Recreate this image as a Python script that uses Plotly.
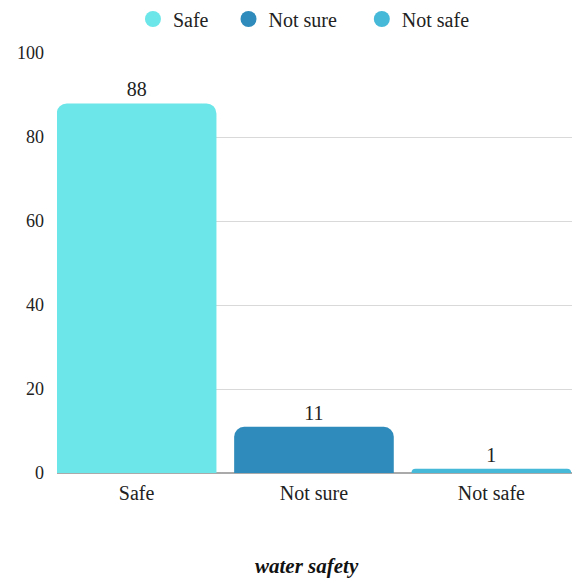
import plotly.graph_objects as go

categories = ["Safe", "Not sure", "Not safe"]
values = [88, 11, 1]
colors = ["#6ce6e8", "#2e8bbb", "#46b8d8"]
y_ticks = [0, 20, 40, 60, 80, 100]
x_title = "water safety"

FONT = "Times New Roman"
# extra spacing after each legend entry
legend_pad = ["\u00a0" * 3, "\u00a0" * 4, ""]

fig = go.Figure()

# One bar trace per category so each colour gets its own legend entry
for cat, val, col in zip(categories, values, colors):
    fig.add_trace(go.Bar(
        x=[cat], y=[val], name=cat,
        marker=dict(color=col, cornerradius=10, line=dict(width=0)),
        width=0.9,
        text=[str(val)], textposition="outside",
        textfont=dict(family=FONT, size=20, color="#222222"),
        cliponaxis=False,
        showlegend=False,
    ))

# Circular legend markers
for cat, col, pad in zip(categories, colors, legend_pad):
    fig.add_trace(go.Scatter(
        x=[None], y=[None], mode="markers",
        name=cat + pad,
        marker=dict(symbol="circle", size=18, color=col),
    ))

# Axis title placed as an annotation below the tick labels
fig.add_annotation(
    text="<b><i>" + x_title + "</i></b>",
    xref="paper", x=(306.5 - 57) / 515, xanchor="center",
    yref="paper", y=(473 - 566) / 420, yanchor="middle",
    showarrow=False,
    font=dict(family=FONT, size=21, color="#111111"),
)

fig.update_layout(
    width=577, height=579,
    margin=dict(l=57, r=5, t=53, b=106, autoexpand=False),
    paper_bgcolor="white", plot_bgcolor="white",
    font=dict(family=FONT, size=18, color="#222222"),
    bargap=0.1,
    legend=dict(orientation="h", x=0.1475, xanchor="left",
                yref="container", y=1 - 19 / 579, yanchor="middle",
                font=dict(family=FONT, size=20, color="#222222"),
                itemsizing="trace", itemwidth=30, tracegroupgap=0),
    xaxis=dict(
        type="category", categoryorder="array", categoryarray=categories,
        range=[-0.449, 2.455],
        showgrid=False, zeroline=False, showline=False,
        ticks="", ticklabelstandoff=6,
        tickfont=dict(family=FONT, size=20, color="#222222"),
    ),
    yaxis=dict(
        range=[0, 100], tickvals=y_ticks,
        showgrid=True, gridcolor="#d9d9d9", gridwidth=1,
        zeroline=True, zerolinecolor="#aaaaaa", zerolinewidth=2,
        showline=False, ticks="", ticklabelstandoff=12,
        tickfont=dict(family=FONT, size=18, color="#222222"),
    ),
)

fig.write_html("out.html")
